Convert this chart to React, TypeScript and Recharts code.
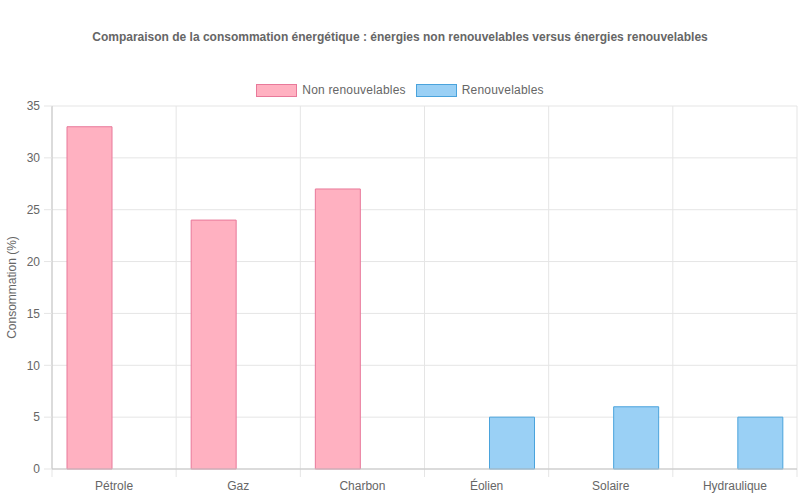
import React from 'react';
import { BarChart, Bar, XAxis, YAxis, CartesianGrid } from 'recharts';

const categories = ['Pétrole', 'Gaz', 'Charbon', 'Éolien', 'Solaire', 'Hydraulique'];
const nonRenouvelables: (number | null)[] = [33, 24, 27, null, null, null];
const renouvelables: (number | null)[] = [null, null, null, 5, 6, 5];
const yTicks = [0, 5, 10, 15, 20, 25, 30, 35];

const title =
  'Comparaison de la consommation énergétique : énergies non renouvelables versus énergies renouvelables';
const yLabel = 'Consommation (%)';

const seriesInfo = [
  { key: 'nonRenouvelables', name: 'Non renouvelables', fill: '#ffb1c1', stroke: '#e8799a' },
  { key: 'renouvelables', name: 'Renouvelables', fill: '#9ad0f5', stroke: '#4aa3dc' },
];

const data = categories.map((c, i) => ({
  name: c,
  nonRenouvelables: nonRenouvelables[i],
  renouvelables: renouvelables[i],
}));

const FONT = '"Liberation Sans", Arial, Helvetica, sans-serif';
const GRID = '#e5e5e5';
const AXIS = '#c4c4c4';
const TEXT = '#666666';

const TOP = 106;
const PLOT_H = 363;

const boundaryGenerator = ({ offset }: any) =>
  Array.from({ length: categories.length + 1 }, (_, i) => offset.left + (i * offset.width) / categories.length);

export default function App() {
  return (
    <div
      style={{
        position: 'absolute',
        left: 0,
        top: 0,
        width: 800,
        height: 500,
        background: '#ffffff',
        fontFamily: FONT,
      }}
    >
      <div
        style={{
          position: 'absolute',
          top: 29,
          left: 0,
          width: 800,
          textAlign: 'center',
          fontWeight: 'bold',
          fontSize: 12,
          color: TEXT,
          lineHeight: '16px',
        }}
      >
        {title}
      </div>
      <div
        style={{
          position: 'absolute',
          top: 80,
          left: 0,
          width: 800,
          height: 20,
          display: 'flex',
          justifyContent: 'center',
          alignItems: 'center',
          fontSize: 12,
          color: TEXT,
        }}
      >
        {seriesInfo.map((s, i) => (
          <div key={s.key} style={{ display: 'flex', alignItems: 'center', marginLeft: i === 0 ? 0 : 10 }}>
            <span
              style={{
                display: 'inline-block',
                width: 41,
                height: 13,
                boxSizing: 'border-box',
                background: s.fill,
                border: `1px solid ${s.stroke}`,
                marginRight: 5,
              }}
            />
            <span style={{ letterSpacing: 0.2 }}>{s.name}</span>
          </div>
        ))}
      </div>
      <div style={{ position: 'absolute', left: 0, top: 0 }}>
        <BarChart
          width={800}
          height={500}
          data={data}
          margin={{ top: TOP, right: 3, left: 0, bottom: 0 }}
          barCategoryGap="10%"
          barGap={5}
          barSize={45}
        >
          <CartesianGrid
            stroke={GRID}
            vertical
            horizontal
            y={TOP}
            height={PLOT_H + 8}
            verticalCoordinatesGenerator={boundaryGenerator}
          />
          <XAxis
            dataKey="name"
            height={31}
            tickLine={false}
            tickSize={8}
            tickMargin={4}
            axisLine={{ stroke: AXIS }}
            tick={{ fill: TEXT, fontSize: 12, fontFamily: FONT }}
            interval={0}
          />
          <YAxis
            width={52}
            domain={[0, 35]}
            ticks={yTicks}
            tickSize={8}
            tickMargin={4}
            axisLine={{ stroke: AXIS }}
            tickLine={{ stroke: GRID }}
            tick={{ fill: TEXT, fontSize: 12, fontFamily: FONT }}
            label={{
              value: yLabel,
              angle: -90,
              position: 'insideLeft',
              offset: 12,
              style: { fill: TEXT, fontSize: 12, fontFamily: FONT, textAnchor: 'middle' },
            }}
          />
          {seriesInfo.map((s) => (
            <Bar
              key={s.key}
              dataKey={s.key}
              name={s.name}
              fill={s.fill}
              stroke={s.stroke}
              strokeWidth={1}
              isAnimationActive={false}
            />
          ))}
        </BarChart>
      </div>
    </div>
  );
}
